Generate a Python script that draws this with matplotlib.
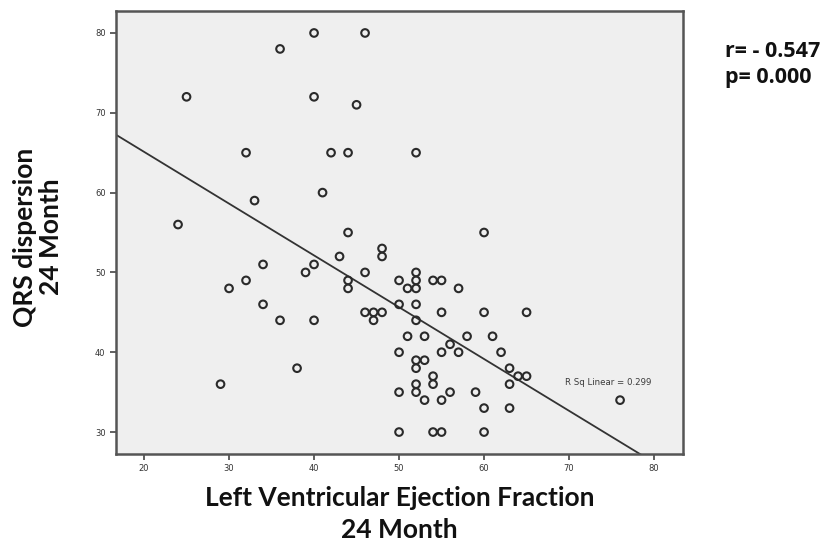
import matplotlib
matplotlib.use("Agg")
import matplotlib.pyplot as plt
import numpy as np

# LVEF (x) and QRS dispersion (y) at 24 months
lvef = [40, 46, 36, 25, 40, 45, 32, 42, 44, 52, 41, 33, 24, 44, 60,
        48, 48, 43, 34, 40, 39, 46, 32, 44, 30, 44, 34, 36, 40, 46, 47, 48, 47, 38, 29,
        52, 52, 52, 50, 51, 54, 55, 57, 50, 52, 55, 60, 65, 52, 51, 53, 58, 61, 56,
        50, 55, 57, 62, 52, 53, 52, 63, 54, 64, 65, 52, 54, 63, 50, 52, 56, 59,
        53, 55, 76, 60, 63, 50, 54, 55, 60]
qrsd = [80, 80, 78, 72, 72, 71, 65, 65, 65, 65, 60, 59, 56, 55, 55,
        53, 52, 52, 51, 51, 50, 50, 49, 49, 48, 48, 46, 44, 44, 45, 45, 45, 44, 38, 36,
        50, 49, 48, 49, 48, 49, 49, 48, 46, 46, 45, 45, 45, 44, 42, 42, 42, 42, 41,
        40, 40, 40, 40, 39, 39, 38, 38, 37, 37, 37, 36, 36, 36, 35, 35, 35, 35,
        34, 34, 34, 33, 33, 30, 30, 30, 30]

# linear fit as shown in the figure
fit_intercept = 78.09
fit_slope = -0.649
r_sq_text = "R Sq Linear = 0.299"
stats_text = "r= - 0.547\np= 0.000"

xticks = [20, 30, 40, 50, 60, 70, 80]
yticks = [30, 40, 50, 60, 70, 80]

fig = plt.figure(figsize=(8.38, 5.43), dpi=100)
ax = fig.add_axes([0.1384, 0.1639, 0.6766, 0.8158])
ax.set_facecolor("#efefef")

ax.scatter(lvef, qrsd, s=30, facecolors="none", edgecolors="#2a2a2a",
           linewidths=1.5, zorder=3)

xlim = (16.7, 83.4)
xs = np.array(xlim)
ax.plot(xs, fit_intercept + fit_slope * xs, color="#333333", lw=1.3, zorder=2)

ax.text(69.5, 36.25, r_sq_text, fontsize=6.2, color="#3a3a3a",
        ha="left", va="center")

ax.set_xlim(xlim)
ax.set_ylim(27.25, 82.75)
ax.set_xticks(xticks)
ax.set_yticks(yticks)
ax.tick_params(direction="out", length=4, width=1.2, colors="#444444",
               labelsize=6, labelcolor="#333333")

for sp in ax.spines.values():
    sp.set_linewidth(1.8)
    sp.set_color("#555555")

lab_font = dict(family="Lato", fontweight="bold", fontsize=19, color="#111111")
ax.set_xlabel("Left Ventricular Ejection Fraction\n24 Month", labelpad=9,
              linespacing=1.4, **lab_font)
fig.text(0.045, 0.5635, "QRS dispersion\n24 Month", rotation=90,
         ha="center", va="center", multialignment="center",
         linespacing=1.1, **lab_font)

fig.text(0.865, 0.925, stats_text, family="Open Sans", fontweight="bold",
         fontsize=15.5, color="#111111", ha="left", va="top", linespacing=1.3)

fig.savefig("out.png", dpi=100, facecolor="white")
